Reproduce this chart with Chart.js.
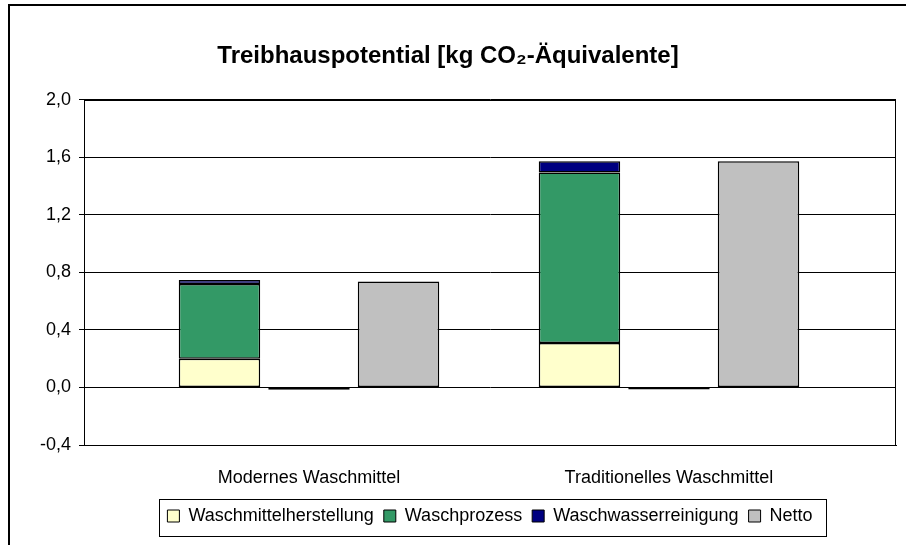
<!DOCTYPE html>
<html>
<head>
<meta charset="utf-8">
<script src="https://cdn.jsdelivr.net/npm/chart.js@4/dist/chart.umd.min.js"></script>
<style>
  html, body { margin: 0; padding: 0; background: #fff; }
  #wrap { position: relative; width: 906px; height: 545px; overflow: hidden; }
  #frame { position: absolute; left: 8px; top: 4px; width: 2000px; height: 2000px;
           border-left: 2px solid #000; border-top: 2px solid #000; pointer-events: none; }
</style>
</head>
<body>
<div id="wrap">
  <canvas id="c" width="906" height="545"></canvas>
  <div id="frame"></div>
</div>
<script>
const categories = ['Modernes Waschmittel', 'Traditionelles Waschmittel'];
const waschmittelherstellung = [0.20, 0.31];
const waschprozess = [0.52, 1.185];
const waschwasserreinigung = [0.028, 0.078];
const gutschrift = [-0.016, -0.014];
const netto = [0.737, 1.572];
const yTicks = [-0.4, 0.0, 0.4, 0.8, 1.2, 1.6, 2.0];

const toPts = arr => arr.map((v, i) => ({ x: i, y: v }));
const FONT = "'Liberation Sans', Arial, sans-serif";

const plotFrame = {
  id: 'plotFrame',
  afterDatasetsDraw(chart) {
    const a = chart.chartArea, ctx = chart.ctx;
    ctx.save();
    ctx.strokeStyle = '#000';
    ctx.lineWidth = 1;
    ctx.strokeRect(Math.round(a.left) + 0.5, Math.round(a.top) + 0.5,
                   Math.round(a.right - a.left) - 1, Math.round(a.bottom - a.top));
    ctx.restore();
  },
  afterDraw(chart) {
    const lg = chart.legend;
    if (!lg || !lg.legendHitBoxes || !lg.legendHitBoxes.length) return;
    const hb = lg.legendHitBoxes;
    let l = Infinity, r = -Infinity, t = Infinity, b = -Infinity;
    hb.forEach(h => { l = Math.min(l, h.left); r = Math.max(r, h.left + h.width);
                      t = Math.min(t, h.top); b = Math.max(b, h.top + h.height); });
    const ctx = chart.ctx;
    ctx.save();
    ctx.strokeStyle = '#000';
    ctx.lineWidth = 1;
    const L = Math.round(l - 8), R = Math.round(r + 13), T = Math.round(t - 8), B = Math.round(b + 11);
    ctx.strokeRect(L + 0.5, T + 0.5, R - L, B - T);
    ctx.restore();
  }
};

const barCommon = { borderColor: '#000', borderWidth: 1.5, borderSkipped: false };

new Chart(document.getElementById('c'), {
  type: 'bar',
  data: {
    datasets: [
      { label: 'Waschmittelherstellung', data: toPts(waschmittelherstellung), backgroundColor: '#FFFFCC', stack: 'a', ...barCommon },
      { label: 'Waschprozess', data: toPts(waschprozess), backgroundColor: '#339966', stack: 'a', ...barCommon },
      { label: 'Waschwasserreinigung', data: toPts(waschwasserreinigung), backgroundColor: '#000080', stack: 'a', ...barCommon },
      { label: 'Gutschrift', data: toPts(gutschrift), backgroundColor: '#000', stack: 'b', ...barCommon },
      { label: 'Netto', data: toPts(netto), backgroundColor: '#C0C0C0', stack: 'c', ...barCommon }
    ]
  },
  options: {
    responsive: false,
    animation: false,
    events: [],
    categoryPercentage: 0.746,
    barPercentage: 0.91,
    layout: { padding: { left: 0, right: 10, top: 0, bottom: 10 } },
    scales: {
      x: {
        type: 'linear',
        stacked: true,
        offset: false,
        min: -0.625,
        max: 1.6306,
        grid: { display: false, offset: false },
        border: { display: true, color: '#000', width: 1 },
        afterBuildTicks: axis => { axis.ticks = categories.map((c, i) => ({ value: i })); },
        afterFit: axis => { axis.height = 52; },
        ticks: {
          padding: 14,
          color: '#000',
          font: { family: FONT, size: 18 },
          maxRotation: 0,
          autoSkip: false,
          callback: v => categories[v]
        }
      },
      y: {
        stacked: true,
        min: -0.4,
        max: 2.0,
        afterBuildTicks: axis => { axis.ticks = yTicks.map(v => ({ value: v })); },
        afterFit: axis => { axis.width = 84; },
        grid: { color: '#000', lineWidth: 1, drawTicks: true, tickLength: 5 },
        border: { display: true, color: '#000', width: 1 },
        ticks: {
          padding: 8,
          color: '#000',
          font: { family: FONT, size: 18 },
          callback: v => v.toFixed(1).replace('.', ',').replace('-0,0', '0,0')
        }
      }
    },
    plugins: {
      tooltip: { enabled: false },
      title: {
        display: true,
        text: 'Treibhauspotential [kg CO₂-Äquivalente]',
        color: '#000',
        font: { family: FONT, size: 24, weight: 'bold', lineHeight: 1.2 },
        padding: { top: 42, bottom: 29 }
      },
      legend: {
        display: true,
        position: 'bottom',
        fullSize: false,
        labels: {
          color: '#000',
          font: { family: FONT, size: 18 },
          boxWidth: 12,
          boxHeight: 12,
          padding: 10,
          generateLabels: chart => {
            const items = Chart.defaults.plugins.legend.labels.generateLabels(chart);
            return items.filter(it => it.text !== 'Gutschrift').map(it => ({ ...it, lineWidth: 1, strokeStyle: '#000' }));
          }
        }
      }
    }
  },
  plugins: [plotFrame]
});
</script>
</body>
</html>
